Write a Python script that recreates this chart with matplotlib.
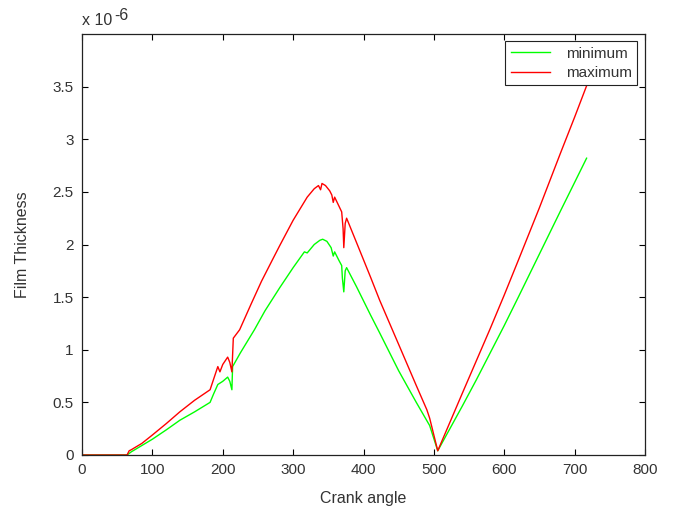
import matplotlib
matplotlib.use("Agg")
import matplotlib.pyplot as plt

# crank angle (deg) and film thickness (x 1e-6)
angle_min = [0, 30, 62, 64, 70, 85, 100, 120, 139, 160, 182, 187, 193, 200, 207, 210, 213, 214,
             225, 245, 260, 281, 300, 316, 320, 330, 338, 342, 348, 354, 357, 359, 365, 369, 370,
             372, 374, 376, 390, 410, 423, 450, 475, 494, 505.5, 540, 560, 580, 600, 620,
             650, 680, 700, 717]
thick_min = [0, 0, 0, 0.0, 0.03, 0.09, 0.15, 0.24, 0.33, 0.41, 0.5, 0.58, 0.67, 0.7, 0.74, 0.7,
             0.62, 0.84, 0.97, 1.19, 1.37, 1.59, 1.78, 1.93, 1.92, 2.0, 2.04, 2.05, 2.03, 1.97,
             1.89, 1.93, 1.85, 1.8, 1.68, 1.55, 1.75, 1.78, 1.6, 1.33, 1.16, 0.8, 0.5, 0.28, 0.04,
             0.46, 0.71, 0.97, 1.23, 1.5, 1.91, 2.32, 2.59, 2.82]

angle_max = [0, 30, 62, 64, 67, 70, 85, 100, 120, 139, 160, 182, 187, 193, 196, 200, 207, 210,
             213, 215, 224, 240, 255, 271, 281, 300, 320, 330, 336, 339, 341, 346, 352, 355, 357,
             359, 364, 369, 371, 372, 374, 376, 390, 410, 423, 450, 475, 490, 494, 505.5,
             540, 560, 580, 600, 620, 650, 680, 700, 720]
thick_max = [0, 0, 0, 0.0, 0.04, 0.05, 0.11, 0.19, 0.3, 0.41, 0.52, 0.62, 0.72, 0.84, 0.79, 0.86,
             0.93, 0.88, 0.79, 1.11, 1.19, 1.43, 1.65, 1.86, 1.99, 2.23, 2.45, 2.53, 2.56, 2.52,
             2.58, 2.56, 2.51, 2.47, 2.4, 2.45, 2.38, 2.31, 2.15, 1.97, 2.2, 2.25, 2.02, 1.69,
             1.47, 1.05, 0.66, 0.43, 0.35, 0.04, 0.58, 0.89, 1.2, 1.52, 1.85, 2.35, 2.87,
             3.21, 3.56]

plt.rcParams['font.family'] = ['Liberation Sans', 'DejaVu Sans']
txt = '#333333'

fig = plt.figure(figsize=(6.73, 5.15), dpi=100)
ax = fig.add_axes([82 / 673, 60 / 515, 563 / 673, 421 / 515])

ax.plot(angle_min, thick_min, color='#00ff00', lw=1, label='minimum')
ax.plot(angle_max, thick_max, color='#ff0000', lw=1, label='maximum')

ax.set_xlim(0, 800)
ax.set_ylim(0, 4.0)
ax.set_xticks(range(0, 801, 100))
ax.set_yticks([0, 0.5, 1, 1.5, 2, 2.5, 3, 3.5])
ax.set_yticklabels(['0', '0.5', '1', '1.5', '2', '2.5', '3', '3.5'])
ax.tick_params(direction='in', top=True, right=True, length=4, width=0.8,
               labelsize=11, labelcolor=txt, pad=6)
for s in ax.spines.values():
    s.set_linewidth(0.9)
    s.set_color('#222222')

ax.set_xlabel('Crank angle', fontsize=11.5, color=txt, labelpad=10)
ax.set_ylabel('Film Thickness', fontsize=11.5, color=txt, labelpad=16)

# exponent label like matlab
fig.text(82 / 673, 1 - 25 / 515, 'x 10', fontsize=11.5, color=txt, va='baseline')
fig.text(114 / 673, 1 - 20 / 515, '-6', fontsize=11.5, color=txt, va='baseline')

leg = ax.legend(loc='upper right', bbox_to_anchor=(0.986, 0.983), borderaxespad=0,
                fancybox=False, framealpha=1, edgecolor='#222222', fontsize=11,
                handlelength=2.6, handletextpad=1.0, labelspacing=0.35, borderpad=0.35)
leg.get_frame().set_linewidth(0.8)
for t in leg.get_texts():
    t.set_color(txt)

fig.savefig('out.png', dpi=100)
